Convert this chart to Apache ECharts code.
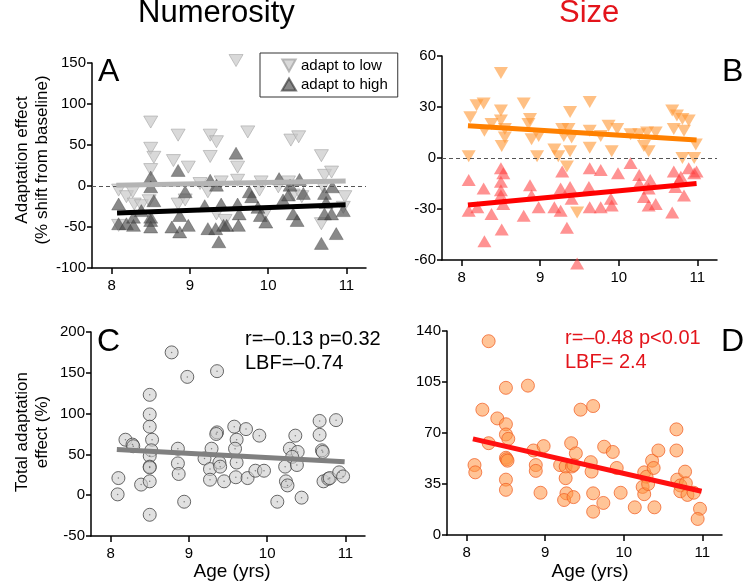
<!DOCTYPE html>
<html lang="en">
<head>
<meta charset="UTF-8">
<title>Adaptation effect by age</title>
<script src="https://cdn.jsdelivr.net/npm/echarts@6/dist/echarts.min.js"></script>
<style>html,body{margin:0;padding:0;background:#fff}</style>
</head>
<body>
<div id="main" style="width:746px;height:582px"></div>
<script>
// x ticks shared by all panels
var xTicks = [8, 9, 10, 11];

// A: numerosity, [age, % shift from baseline]
var numLow = [[9.59,153],[8.50,78],[8.50,46],[8.54,35],[8.50,20],[8.85,62],[8.79,31],[8.98,23],[9.26,62],[9.34,54],[9.26,36],[9.74,66],[9.61,23],[9.61,7],[10.29,56],[10.39,60],[10.68,37],[10.72,13],[10.81,17],[10.68,-46],[8.09,-5],[8.19,-13],[8.27,-7],[8.09,-48],[8.29,-22],[8.38,-24],[8.48,-18],[8.85,-22],[8.94,-17],[9.23,-7],[9.40,5],[9.34,-34],[9.45,-42],[9.89,-5],[9.96,-34],[10.13,-1],[10.26,5],[10.32,-11],[10.43,-13],[10.70,-1],[10.98,-13],[10.96,-26],[9.91,5],[9.13,3]];
var numHigh = [[9.59,40],[8.85,19],[8.50,11],[8.50,-1],[8.54,-18],[8.09,-22],[8.09,-46],[8.19,-46],[8.28,-48],[8.28,-38],[8.38,-30],[8.50,-38],[8.50,-50],[8.50,-42],[8.77,-50],[8.87,-56],[8.98,-48],[8.87,-36],[8.94,-7],[9.26,7],[9.19,-24],[9.23,-52],[9.33,-52],[9.37,-68],[9.43,-48],[9.34,1],[9.40,-22],[9.47,-48],[9.62,-48],[9.61,-22],[9.63,-34],[9.76,-7],[9.79,-13],[9.87,-26],[9.90,-36],[9.97,-44],[10.14,9],[10.19,-17],[10.26,-11],[10.28,1],[10.32,-34],[10.37,-42],[10.40,8],[10.45,-9],[10.68,-70],[10.72,-9],[10.74,-20],[10.72,-34],[10.81,-34],[10.82,-1],[10.87,-58],[10.96,-30]];
var fitNumLow = [[8.06,1],[10.99,6]];
var fitNumHigh = [[8.07,-33],[10.99,-23]];

// B: size
var sizeLow = [[8.50,50],[8.11,24],[8.19,31],[8.28,32],[8.29,16],[8.38,20],[8.50,28],[8.50,22],[8.55,12],[8.51,7],[8.55,17],[8.09,1],[8.79,32],[8.87,23],[8.85,20],[8.89,11],[8.98,13],[8.96,1],[9.18,5],[9.23,1],[9.28,17],[9.30,13],[9.38,27],[9.36,17],[9.40,12],[9.38,4],[9.34,-5],[9.47,-32],[9.63,33],[9.63,16],[9.63,6],[9.77,13],[9.87,19],[9.98,17],[9.91,4],[10.15,14],[10.26,14],[10.32,7],[10.38,4],[10.36,15],[10.47,15],[10.68,28],[10.74,25],[10.81,23],[10.89,22],[10.70,17],[10.83,16],[10.81,0],[10.96,0],[10.98,8]];
var sizeHigh = [[8.09,-13],[8.09,-31],[8.20,-29],[8.28,-18],[8.29,-49],[8.38,-33],[8.50,-6],[8.53,-9],[8.50,-14],[8.50,-19],[8.50,-22],[8.53,-27],[8.51,-42],[8.79,-34],[8.87,-16],[8.89,-22],[8.98,-29],[9.18,-29],[9.26,-31],[9.28,-8],[9.26,-18],[9.34,-41],[9.38,-17],[9.40,-24],[9.47,-62],[9.62,-17],[9.63,-6],[9.63,-29],[9.77,-7],[9.77,-29],[9.90,-24],[9.91,-28],[9.99,-9],[10.15,-3],[10.26,-10],[10.26,-15],[10.32,-23],[10.38,-18],[10.40,-13],[10.38,-28],[10.47,-27],[10.68,-32],[10.70,-8],[10.72,-17],[10.77,-13],[10.79,-11],[10.83,-22],[10.89,-6],[10.96,-9],[10.99,-8]];
var fitSizeLow = [[8.08,19],[10.99,10.6]];
var fitSizeHigh = [[8.08,-27.6],[10.99,-15]];

// C: total numerosity adaptation (%)
var totalNum = [[8.10,21],[8.09,1],[8.19,68],[8.28,62],[8.29,60],[8.39,13],[8.50,123],[8.50,99],[8.50,84],[8.53,68],[8.52,55],[8.50,48],[8.50,35],[8.50,34],[8.50,17],[8.50,-24],[8.78,175],[8.86,57],[8.86,39],[8.87,26],[8.98,145],[8.94,-8],[9.36,152],[9.36,77],[9.35,75],[9.29,57],[9.20,45],[9.27,32],[9.27,19],[9.39,40],[9.40,35],[9.45,17],[9.58,84],[9.73,81],[9.61,68],[9.59,57],[9.61,40],[9.60,22],[9.75,21],[9.85,30],[9.96,30],[9.90,73],[10.13,-8],[10.23,35],[10.29,57],[10.36,73],[10.39,53],[10.32,47],[10.38,37],[10.24,17],[10.26,12],[10.44,-3],[10.67,91],[10.67,74],[10.70,55],[10.71,53],[10.72,17],[10.78,20],[10.80,21],[10.88,92],[10.92,28],[10.97,23]];
var fitTotalNum = [[8.08,56],[10.99,41]];

// D: total size adaptation (%)
var totalSize = [[8.28,133],[8.50,101],[8.78,102.5],[8.20,86],[8.39,80],[8.50,76],[8.50,69],[8.53,66],[8.28,63],[8.10,48],[8.11,43],[8.50,53],[8.51,52],[8.52,51],[8.50,38],[8.50,31],[8.85,58],[8.88,48],[8.88,44],[8.98,61],[8.94,29],[9.33,63],[9.39,56],[9.19,48],[9.26,47],[9.34,47],[9.36,48],[9.26,39],[9.27,28.6],[9.24,24],[9.36,26],[9.45,86],[9.61,88.5],[9.58,50],[9.59,43.5],[9.61,28.6],[9.61,16],[9.74,22],[9.75,60.6],[9.86,57],[9.91,46],[9.96,29],[10.14,19],[10.26,43],[10.29,40],[10.24,33],[10.26,28],[10.31,35],[10.36,51],[10.38,46],[10.44,58],[10.39,19],[10.67,72.5],[10.67,58],[10.68,38],[10.78,43.5],[10.72,34],[10.79,35.5],[10.72,30],[10.81,27.5],[10.89,29],[10.97,18],[10.94,11]];
var fitTotalSize = [[8.08,66],[10.99,30]];

var FONT = "'Liberation Sans', Arial, sans-serif";
var downTri = 'path://M0,0L10,0L5,9Z';

function xAxisFor(g) {
    return {
        type: 'value', gridIndex: g, min: 7.75, max: 11.25,
        axisLine: {show: true, onZero: false, lineStyle: {color: '#000', width: 1.5}},
        axisTick: {show: true, customValues: xTicks, length: 6, lineStyle: {color: '#000', width: 1.5}},
        axisLabel: {customValues: xTicks, fontSize: 15, color: '#000', margin: 10, fontFamily: FONT},
        splitLine: {show: false}
    };
}
function yAxisFor(g, min, max, step) {
    return {
        type: 'value', gridIndex: g, min: min, max: max, interval: step,
        axisLine: {show: true, onZero: false, lineStyle: {color: '#000', width: 1.5}},
        axisTick: {show: true, length: 5, lineStyle: {color: '#000', width: 1.5}},
        axisLabel: {fontSize: 15, color: '#000', margin: 6, fontFamily: FONT},
        splitLine: {show: false}
    };
}
function pts(name, g, data, sym, size, style) {
    return {name: name, type: 'scatter', xAxisIndex: g, yAxisIndex: g, data: data, clip: false,
        symbol: sym, symbolSize: size, itemStyle: style, z: 2};
}
function fit(g, data, color) {
    return {type: 'line', xAxisIndex: g, yAxisIndex: g, data: data, symbol: 'none', silent: true,
        lineStyle: {color: color, width: 5}, z: 5};
}
function zeroLine(g) {
    return {type: 'line', xAxisIndex: g, yAxisIndex: g, data: [], silent: true,
        markLine: {silent: true, symbol: 'none', label: {show: false},
            lineStyle: {color: '#555', type: [4, 3], width: 1}, data: [{yAxis: 0}]}, z: 1};
}
function letter(t, x, y) {
    return {text: t, left: x, top: y, padding: 0, textStyle: {fontSize: 32, fontWeight: 'normal', color: '#000', fontFamily: FONT}};
}

var chart = echarts.init(document.getElementById('main'));
chart.setOption({
    animation: false,
    grid: [
        {left: 92, top: 63, width: 274, height: 205},
        {left: 442, top: 56, width: 275, height: 204},
        {left: 91, top: 332, width: 274, height: 204},
        {left: 447, top: 331, width: 275, height: 204}
    ],
    xAxis: [xAxisFor(0), xAxisFor(1), xAxisFor(2), xAxisFor(3)],
    yAxis: [yAxisFor(0, -100, 150, 50), yAxisFor(1, -60, 60, 30), yAxisFor(2, -50, 200, 50), yAxisFor(3, 0, 140, 35)],
    legend: {
        left: 260, top: 53, orient: 'vertical', selectedMode: false,
        data: [{name: 'adapt to low', icon: downTri}, {name: 'adapt to high', icon: 'triangle'}],
        borderColor: '#333', borderWidth: 1, padding: [5, 10, 5, 21], itemGap: 4,
        itemWidth: 14, itemHeight: 12,
        textStyle: {fontSize: 15, color: '#000', fontFamily: FONT}
    },
    title: [
        {text: 'Numerosity', left: 138, top: -2, padding: 0, textStyle: {fontSize: 31, fontWeight: 'normal', color: '#000', fontFamily: FONT}},
        {text: 'Size', left: 559, top: -2, padding: 0, textStyle: {fontSize: 31, fontWeight: 'normal', color: '#e3141b', fontFamily: FONT}},
        letter('A', 98, 56), letter('B', 722, 56), letter('C', 97, 326), letter('D', 721, 326),
        {text: 'r=\u20130.13 p=0.32\nLBF=\u20130.74', left: 245, top: 327, padding: 0,
            textStyle: {fontSize: 20, lineHeight: 24, fontWeight: 'normal', color: '#000', fontFamily: FONT}},
        {text: 'r=\u20130.48 p<0.01\nLBF= 2.4', left: 565, top: 326, padding: 0,
            textStyle: {fontSize: 20, lineHeight: 24, fontWeight: 'normal', color: '#e3141b', fontFamily: FONT}}
    ],
    graphic: [
        {type: 'text', x: 22, y: 160, rotation: Math.PI / 2, style: {text: 'Adaptation effect', fontSize: 17, fontFamily: FONT, fill: '#000', align: 'center', verticalAlign: 'middle'}},
        {type: 'text', x: 42, y: 160, rotation: Math.PI / 2, style: {text: '(% shift from baseline)', fontSize: 17, fontFamily: FONT, fill: '#000', align: 'center', verticalAlign: 'middle'}},
        {type: 'text', x: 22, y: 432, rotation: Math.PI / 2, style: {text: 'Total adaptation', fontSize: 17, fontFamily: FONT, fill: '#000', align: 'center', verticalAlign: 'middle'}},
        {type: 'text', x: 42, y: 432, rotation: Math.PI / 2, style: {text: 'effect (%)', fontSize: 17, fontFamily: FONT, fill: '#000', align: 'center', verticalAlign: 'middle'}},
        {type: 'text', x: 232, y: 572, style: {text: 'Age (yrs)', fontSize: 19, fontFamily: FONT, fill: '#000', align: 'center', verticalAlign: 'middle'}},
        {type: 'text', x: 590, y: 572, style: {text: 'Age (yrs)', fontSize: 19, fontFamily: FONT, fill: '#000', align: 'center', verticalAlign: 'middle'}}
    ],
    series: [
        zeroLine(0), zeroLine(1),
        pts('adapt to low', 0, numLow, downTri, [14, 12], {color: 'rgba(200,200,200,0.85)', borderColor: '#a8a8a8', borderWidth: 0.8}),
        pts('adapt to high', 0, numHigh, 'triangle', [14, 12], {color: 'rgba(70,70,70,0.8)', borderColor: 'rgba(50,50,50,0.8)', borderWidth: 0.5}),
        fit(0, fitNumLow, '#b4b4b4'),
        fit(0, fitNumHigh, '#000'),
        pts('size low', 1, sizeLow, downTri, [14, 12], {color: 'rgba(255,150,50,0.75)'}),
        pts('size high', 1, sizeHigh, 'triangle', [14, 12], {color: 'rgba(255,60,60,0.7)'}),
        fit(1, fitSizeLow, '#ff8000'),
        fit(1, fitSizeHigh, '#ff0000'),
        pts('total numerosity', 2, totalNum, 'circle', 13, {color: 'rgba(205,205,205,0.75)', borderColor: '#444', borderWidth: 1}),
        pts('dots', 2, totalNum, 'circle', 1.5, {color: '#666'}),
        fit(2, fitTotalNum, '#808080'),
        pts('total size', 3, totalSize, 'circle', 13, {color: 'rgba(255,150,70,0.7)', borderColor: 'rgba(240,90,30,0.9)', borderWidth: 1}),
        fit(3, fitTotalSize, '#ff1010')
    ]
});
</script>
</body>
</html>
